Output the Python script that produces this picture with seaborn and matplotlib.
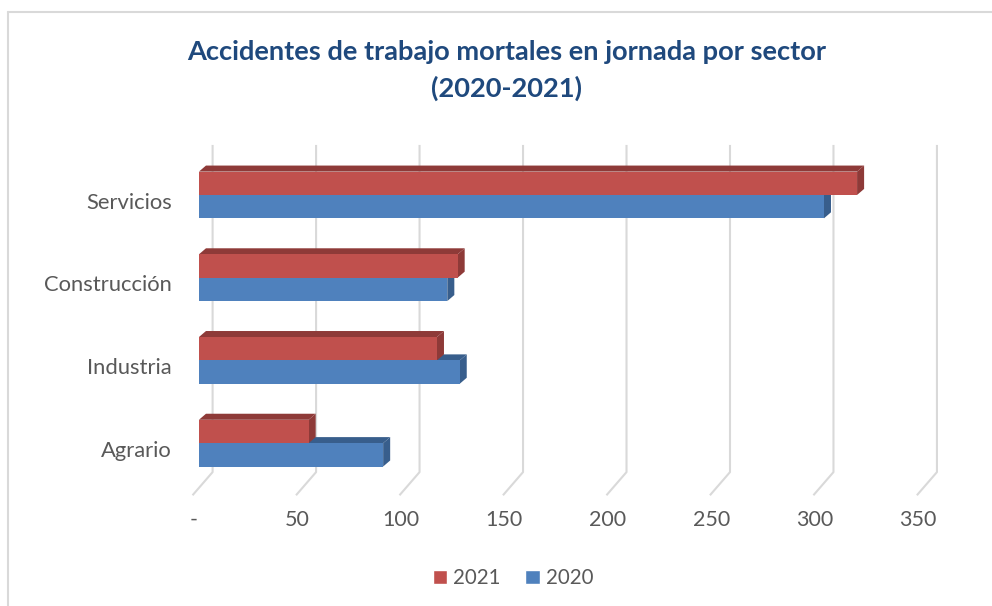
import pandas as pd
import seaborn as sns
import matplotlib.pyplot as plt
from matplotlib.patches import Polygon, Patch
from matplotlib.lines import Line2D

# datos (accidentes mortales en jornada)
sectores = ['Servicios', 'Construcción', 'Industria', 'Agrario']
anios = ['2021', '2020']
mortales_2021 = [318, 125, 115, 53]
mortales_2020 = [302, 120, 126, 89]
x_ticks = [0, 50, 100, 150, 200, 250, 300, 350]
x_labels = ['-', '50', '100', '150', '200', '250', '300', '350']

colores = {'2021': '#C0504D', '2020': '#4F81BD'}
oscuros = {'2021': '#8E3A38', '2020': '#385E8C'}

df = pd.DataFrame({
    'sector': sectores * 2,
    'anio': ['2021'] * len(sectores) + ['2020'] * len(sectores),
    'valor': mortales_2021 + mortales_2020,
})

sns.set_theme(style='white')
plt.rcParams['font.family'] = ['Lato', 'DejaVu Sans']

fig = plt.figure(figsize=(9.92, 6.06), dpi=100)
ax = fig.add_axes([0.1922, 0.180, 0.7594, 0.587])

sns.barplot(data=df, y='sector', x='valor', hue='anio', order=sectores,
            hue_order=anios, palette=colores, orient='h', width=0.565,
            saturation=1, legend=False, errorbar=None, ax=ax)

# efecto 3D: profundidad de las barras
dx, dy = 3.4, 0.073
for anio, cont in zip(anios, ax.containers):
    z = 2.5 if anio == '2021' else 2
    for rect in cont:
        rect.set_zorder(3)
        rect.set_edgecolor('none')
        x0, y0 = rect.get_x(), rect.get_y()
        w, h = rect.get_width(), rect.get_height()
        top = [(x0, y0), (x0 + dx, y0 - dy), (x0 + w + dx, y0 - dy), (x0 + w, y0)]
        side = [(x0 + w, y0), (x0 + w + dx, y0 - dy), (x0 + w + dx, y0 + h - dy), (x0 + w, y0 + h)]
        ax.add_patch(Polygon(top, closed=True, facecolor=oscuros[anio], edgecolor='none', zorder=z))
        ax.add_patch(Polygon(side, closed=True, facecolor=oscuros[anio], edgecolor='none', zorder=z))

# rejilla en perspectiva (pared del fondo + suelo)
back, floor_y, top_y, end_y = 6.6, 3.35, -0.605, 3.63
for v in x_ticks:
    ax.plot([v + back, v + back, v - 3.1], [top_y, floor_y, end_y],
            color='#D9D9D9', lw=1.5, zorder=1, solid_capstyle='butt')

ax.set_xlim(-4, 360)
ax.set_ylim(3.65, -0.65)
ax.set_xticks([v - 2.5 for v in x_ticks], x_labels)
ax.set_yticks([i + 0.07 for i in range(len(sectores))], sectores)
ax.tick_params(axis='x', length=0, pad=9.5, labelsize=15.5, labelcolor='#595959')
ax.tick_params(axis='y', length=0, pad=13.5, labelsize=15.8, labelcolor='#595959')
ax.set_xlabel('')
ax.set_ylabel('')
for s in ax.spines.values():
    s.set_visible(False)

fig.text(507 / 992, 1 - 52 / 606, 'Accidentes de trabajo mortales en jornada por sector',
         ha='center', va='center', fontsize=19.6, fontweight='bold', color='#1F497D')
fig.text(507 / 992, 1 - 88 / 606, '(2020-2021)',
         ha='center', va='center', fontsize=19.6, fontweight='bold', color='#1F497D')

handles = [Patch(facecolor=colores[a], label=a) for a in anios]
fig.legend(handles=handles, loc='center', bbox_to_anchor=(513 / 992, 1 - 578 / 606), ncol=2,
           frameon=False, fontsize=14.8, handlelength=0.7, handleheight=0.7,
           handletextpad=0.3, columnspacing=1.2, labelcolor='#595959')

# marco del gráfico
fig.add_artist(Line2D([8 / 992, 1], [1 - 12 / 606, 1 - 12 / 606], color='#D9D9D9', lw=1.5))
fig.add_artist(Line2D([8 / 992, 8 / 992], [0, 1 - 12 / 606], color='#D9D9D9', lw=1.5))

fig.savefig('out.png', dpi=100)
